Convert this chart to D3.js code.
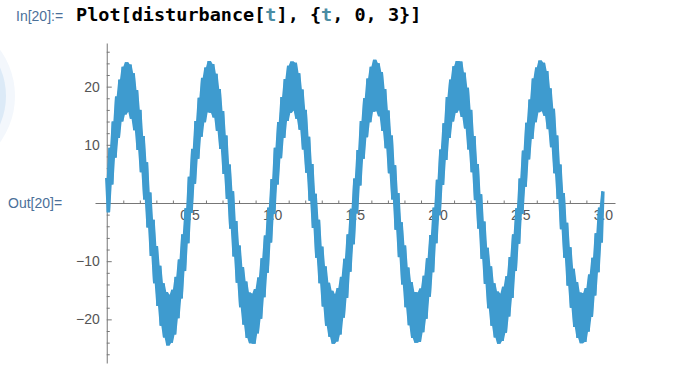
<!DOCTYPE html>
<html>
<head>
<meta charset="utf-8">
<script src="https://cdn.jsdelivr.net/npm/d3@7"></script>
<style>
  html, body { margin: 0; padding: 0; background: #fff; }
  svg { display: block; }
</style>
</head>
<body>
<svg id="chart" width="674" height="371"></svg>
<script>
const tStart = 0, tStep = 0.01;
const disturbance = [
  4.3,-1.6,9.5,3.2,14.0,7.8,18.3,11.2,21.2,14.0,23.4,15.2,24.2,15.7,23.8,14.5,22.3,12.5,19.4,9.1,
  16.0,5.3,11.5,0.6,7.0,-4.2,1.8,-9.1,-2.9,-13.8,-7.4,-17.7,-10.8,-21.1,-13.8,-23.1,-15.3,-24.5,-15.8,-24.0,
  -14.9,-22.6,-12.7,-19.8,-9.7,-16.4,-5.4,-11.7,-0.9,-6.9,
  4.5,-1.7,9.3,3.3,14.1,7.6,18.1,11.4,21.5,13.9,23.3,15.6,24.4,15.5,23.9,14.7,22.2,12.4,19.6,9.3,
  15.8,5.0,11.6,0.7,6.6,-4.4,2.0,-9.2,-3.1,-13.7,-7.3,-17.9,-11.0,-20.9,-13.5,-23.2,-15.4,-24.1,-15.6,-24.2,
  -14.8,-22.4,-12.8,-19.9,-9.5,-16.2,-5.6,-12.0,-0.8,-6.8,
  4.1,-1.9,9.5,3.2,13.9,7.7,18.2,11.2,21.3,14.1,23.6,15.5,24.3,15.9,24.1,14.5,22.3,12.6,19.5,9.2,
  16.0,5.2,11.4,0.4,6.7,-4.3,1.6,-9.4,-2.9,-13.8,-7.5,-17.8,-10.9,-21.1,-13.7,-23.0,-15.1,-24.2,-15.7,-23.8,
  -14.6,-22.6,-12.7,-19.7,-9.6,-16.3,-5.4,-11.8,-1.0,-7.1,
  4.2,-1.8,9.1,3.0,14.1,7.6,18.0,11.3,21.4,13.9,23.4,15.7,24.6,15.8,24.0,14.9,22.5,12.4,19.6,9.4,
  15.9,5.1,11.6,0.6,6.5,-4.6,1.7,-9.3,-3.3,-14.0,-7.3,-17.9,-11.1,-21.0,-13.6,-23.2,-15.3,-24.0,-15.4,-23.9,
  -14.7,-22.2,-12.5,-19.9,-9.5,-16.1,-5.5,-11.9,-0.8,-6.9,
  4.0,-2.1,9.2,3.1,13.7,7.4,18.2,11.2,21.2,14.0,23.5,15.5,24.4,16.0,24.3,14.8,22.4,12.8,19.8,9.2,
  16.0,5.3,11.5,0.5,6.7,-4.4,1.5,-9.6,-3.2,-13.9,-7.7,-18.1,-10.9,-21.1,-13.8,-23.1,-15.2,-24.2,-15.6,-23.7,
  -14.4,-22.3,-12.6,-19.5,-9.3,-16.3,-5.4,-11.7,-0.9,-7.0,
  4.2,-1.9,9.0,2.8,13.8,7.5,17.8,11.0,21.4,13.9,23.3,15.6,24.5,15.8,24.1,15.0,22.7,12.7,19.7,9.6,
  16.2,5.1,11.6,0.7,6.6,-4.5,1.7,-9.4,-3.4,-14.2,-7.6,-18.0,-11.3,-21.3,-13.6,-23.2,-15.4,-24.1,-15.5,-23.9,
  -14.6,-22.1,-12.3,-19.6,-9.4,-15.9,-5.2,-11.9,-0.8,-6.8,
  2.0
];
const xMajorTicks = [0.5, 1.0, 1.5, 2.0, 2.5, 3.0];
const xTickLabels = ["0.5", "1.0", "1.5", "2.0", "2.5", "3.0"];
const yMajorTicks = [-20, -10, 10, 20];
const yTickLabels = ["\u221220", "\u221210", "10", "20"];
const xMinorTicks = [0.1,0.2,0.3,0.4,0.6,0.7,0.8,0.9,1.1,1.2,1.3,1.4,1.6,1.7,1.8,1.9,2.1,2.2,2.3,2.4,2.6,2.7,2.8,2.9];
const yMinorTicks = [-26,-24,-22,-18,-16,-14,-12,-8,-6,-4,-2,2,4,6,8,12,14,16,18,22,24,26];
const inputLabel = "In[20]:=";
const outputLabel = "Out[20]=";
const codeParts = [
  {text: "Plot[disturbance[", color: "#000"},
  {text: "t", color: "#4a8ca3"},
  {text: "], {", color: "#000"},
  {text: "t", color: "#4a8ca3"},
  {text: ", 0, 3}]", color: "#000"}
];

// ---- drawing ----
const svg = d3.select("#chart");

// faint decorative circle at left edge
svg.append("circle").attr("cx", -64).attr("cy", 96).attr("r", 79).attr("fill", "#f3f7fc");
svg.append("circle").attr("cx", -64.5).attr("cy", 96).attr("r", 70.5).attr("fill", "#dceaf7");

const x = d3.scaleLinear().domain([-0.071, 3.073]).range([95, 615]);
const y = d3.scaleLinear().domain([-27.5, 27.5]).range([363, 43]);

const axisColor = "#777";
const labelColor = "#555";
const tickFont = "'Liberation Sans', Arial, sans-serif";
const curveColor = "#3e9bcf";

// input line
svg.append("text").attr("x", 16).attr("y", 21)
  .attr("font-family", tickFont).attr("font-size", 14).attr("fill", "#4b7099")
  .text(inputLabel);
const code = svg.append("text").attr("x", 76).attr("y", 21)
  .attr("font-family", "'DejaVu Sans Mono', monospace").attr("font-weight", "bold")
  .attr("font-size", 18.5);
codeParts.forEach(p => code.append("tspan").attr("fill", p.color).text(p.text));

// output label
svg.append("text").attr("x", 8).attr("y", 208)
  .attr("font-family", tickFont).attr("font-size", 14).attr("fill", "#4b7099")
  .text(outputLabel);

// x axis (major)
const gx = svg.append("g").attr("transform", `translate(0,${y(0)})`)
  .call(d3.axisBottom(x).tickValues(xMajorTicks)
    .tickFormat((d, i) => xTickLabels[i]).tickSizeInner(-4.5).tickSizeOuter(0).tickPadding(7));
gx.select(".domain").attr("stroke", axisColor);
gx.selectAll(".tick line").attr("stroke", axisColor);
gx.selectAll(".tick text").attr("fill", labelColor).attr("font-family", tickFont).attr("font-size", 14);

// x axis (minor)
const gxm = svg.append("g").attr("transform", `translate(0,${y(0)})`)
  .call(d3.axisBottom(x).tickValues(xMinorTicks).tickFormat("").tickSizeInner(-2.5).tickSizeOuter(0));
gxm.select(".domain").remove();
gxm.selectAll(".tick line").attr("stroke", axisColor);

// y axis (major)
const gy = svg.append("g").attr("transform", `translate(${x(0)},0)`)
  .call(d3.axisLeft(y).tickValues(yMajorTicks)
    .tickFormat((d, i) => yTickLabels[i]).tickSizeInner(-5).tickSizeOuter(0).tickPadding(7));
gy.select(".domain").attr("stroke", axisColor);
gy.selectAll(".tick line").attr("stroke", axisColor);
gy.selectAll(".tick text").attr("fill", labelColor).attr("font-family", tickFont).attr("font-size", 14);

// y axis (minor)
const gym = svg.append("g").attr("transform", `translate(${x(0)},0)`)
  .call(d3.axisLeft(y).tickValues(yMinorTicks).tickFormat("").tickSizeInner(-3).tickSizeOuter(0));
gym.select(".domain").remove();
gym.selectAll(".tick line").attr("stroke", axisColor);

// curve: the span each step of the dense zigzag sweeps, filled, then the zigzag itself
const n = disturbance.length;
const lo = (i) => Math.min(disturbance[Math.max(i - 1, 0)], disturbance[i], disturbance[Math.min(i + 1, n - 1)]);
const hi = (i) => Math.max(disturbance[Math.max(i - 1, 0)], disturbance[i], disturbance[Math.min(i + 1, n - 1)]);
const band = d3.area()
  .x((d, i) => x(tStart + i * tStep))
  .y0((d, i) => y(lo(i)))
  .y1((d, i) => y(hi(i)));
svg.append("path").datum(disturbance)
  .attr("fill", curveColor)
  .attr("d", band);

const line = d3.line()
  .x((d, i) => x(tStart + i * tStep))
  .y(d => y(d));
svg.append("path").datum(disturbance)
  .attr("fill", "none")
  .attr("stroke", curveColor)
  .attr("stroke-width", 3.4)
  .attr("stroke-linejoin", "bevel")
  .attr("stroke-linecap", "butt")
  .attr("d", line);
</script>
</body>
</html>
